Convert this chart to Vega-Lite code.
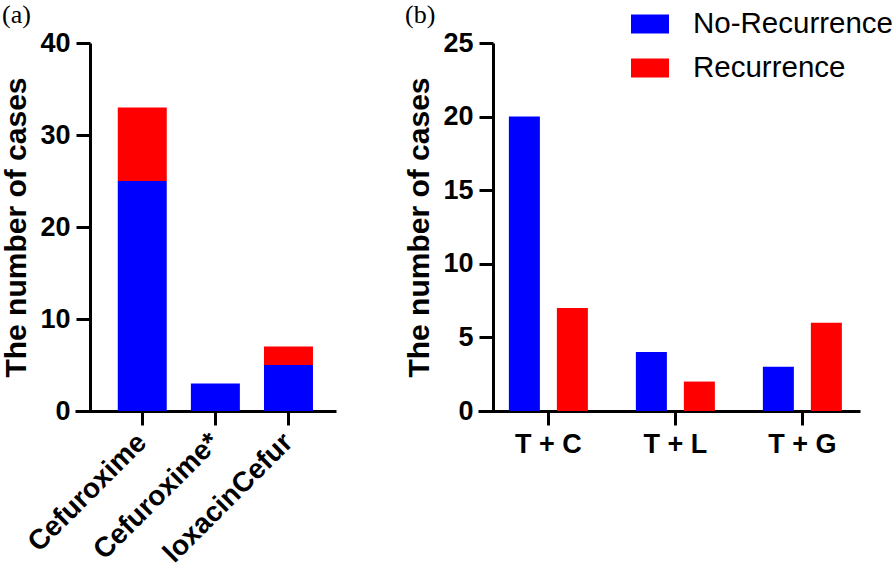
{
  "$schema": "https://vega.github.io/schema/vega-lite/v6.json",
  "background": "white",
  "padding": {"left": 1, "top": 2, "right": 0, "bottom": 0},
  "config": {
    "view": {"stroke": null},
    "font": "Liberation Sans",
    "axis": {
      "domainColor": "black", "domainWidth": 3, "tickColor": "black", "tickWidth": 3, "tickSize": 14,
      "labelFont": "Liberation Sans", "labelFontWeight": "bold", "labelFontSize": 27, "labelColor": "black", "labelPadding": 6, "labelLimit": 300,
      "grid": false, "titleFont": "Liberation Sans", "titleFontWeight": "bold", "titleFontSize": 30, "titleColor": "black", "titlePadding": 8
    },
    "title": {"font": "Liberation Serif", "fontSize": 26, "fontWeight": "normal", "anchor": "start", "frame": "bounds", "color": "black", "offset": 1},
    "legend": {
      "orient": "none", "legendX": 556, "legendY": -38, "padding": 0,
      "symbolType": "M-1,-0.5H1V0.5H-1Z", "symbolSize": 1444, "symbolStrokeWidth": 0, "symbolOpacity": 1,
      "labelFont": "Liberation Sans", "labelFontSize": 29.5, "labelFontWeight": "normal", "labelColor": "black",
      "labelLimit": 400, "labelOffset": 24, "rowPadding": 10
    }
  },
  "spacing": 68,
  "hconcat": [
    {
      "width": 261,
      "height": 368,
      "title": {"text": "(a)"},
      "data": {"values": [
        {"drug": "Cefuroxime", "status": "No-Recurrence", "count": 25},
        {"drug": "Cefuroxime", "status": "Recurrence", "count": 8},
        {"drug": "Cefuroxime*", "status": "No-Recurrence", "count": 3},
        {"drug": "loxacinCefur", "status": "No-Recurrence", "count": 5},
        {"drug": "loxacinCefur", "status": "Recurrence", "count": 2}
      ]},
      "mark": {"type": "bar"},
      "encoding": {
        "x": {"field": "drug", "type": "nominal", "sort": null,
          "scale": {"paddingInner": 0.33, "paddingOuter": 0.45, "align": 0.65},
          "axis": {"title": null, "labelAngle": -45, "labelAlign": "right", "labelBaseline": "middle", "labelFontSize": 28, "labelPadding": 13}},
        "y": {"field": "count", "type": "quantitative", "stack": "zero",
          "scale": {"domain": [0, 40]},
          "axis": {"title": "The number of cases", "values": [0, 10, 20, 30, 40], "offset": -15}},
        "order": {"field": "status", "sort": "ascending"},
        "color": {"field": "status", "type": "nominal",
          "scale": {"domain": ["No-Recurrence", "Recurrence"], "range": ["#0000ff", "#ff0000"]},
          "legend": {"title": null}}
      }
    },
    {
      "width": 382,
      "height": 368,
      "title": {"text": "(b)"},
      "data": {"values": [
        {"group": "T + C", "status": "No-Recurrence", "count": 20},
        {"group": "T + C", "status": "Recurrence", "count": 7},
        {"group": "T + L", "status": "No-Recurrence", "count": 4},
        {"group": "T + L", "status": "Recurrence", "count": 2},
        {"group": "T + G", "status": "No-Recurrence", "count": 3},
        {"group": "T + G", "status": "Recurrence", "count": 6}
      ]},
      "mark": {"type": "bar"},
      "encoding": {
        "x": {"field": "group", "type": "nominal", "sort": null,
          "scale": {"paddingInner": 0.378, "paddingOuter": 0.193, "align": 0.63},
          "axis": {"title": null, "labelAngle": 0}},
        "xOffset": {"field": "status", "type": "nominal", "sort": ["No-Recurrence", "Recurrence"],
          "scale": {"paddingInner": 0.354, "paddingOuter": 0}},
        "y": {"field": "count", "type": "quantitative",
          "scale": {"domain": [0, 25]},
          "axis": {"title": "The number of cases", "values": [0, 5, 10, 15, 20, 25], "offset": -15}},
        "color": {"field": "status", "type": "nominal",
          "scale": {"domain": ["No-Recurrence", "Recurrence"], "range": ["#0000ff", "#ff0000"]},
          "legend": {"title": null}}
      }
    }
  ]
}
